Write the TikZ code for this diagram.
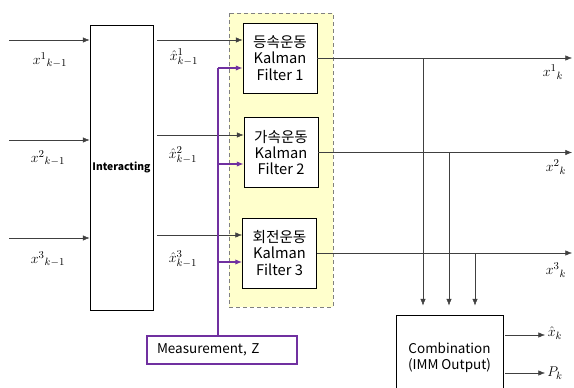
\documentclass[tikz,border=0pt]{standalone}
\usepackage{fontspec}
\setmainfont{Noto Sans CJK KR}
\usetikzlibrary{arrows.meta}
\definecolor{bankyel}{RGB}{255,255,204}
\definecolor{zpurple}{RGB}{112,48,160}
\definecolor{wire}{RGB}{64,64,64}
\tikzset{
  blk/.style  = {rectangle, draw, thick, fill=white, align=center, inner sep=0, font=\fontsize{11.5}{13.6}\selectfont},
  kf/.style   = {blk, minimum width=22.2mm, minimum height=21mm, font=\fontsize{12.5}{14}\selectfont},
  arr/.style  = {draw=wire, -{Latex[length=2mm,width=1.6mm]}},
  zline/.style= {draw=zpurple, line width=1pt},
  zarr/.style = {zline, -{Latex[length=2mm,width=1.6mm]}},
  lbl/.style  = {font=\fontsize{13}{15}\selectfont}
}

\begin{document}
\begin{tikzpicture}[x=0.3mm,y=-0.3mm]
  \useasboundingbox (0,0) rectangle (574,387);
  \clip (0,0) rectangle (574,387);

  % filter bank
  \draw[draw=gray, fill=bankyel, thick, dash pattern=on 1.2mm off 0.9mm] (229,13) rectangle (333,307);

  \node[blk, minimum width=18.9mm, minimum height=85.5mm, font=\fontsize{8.8}{10}\selectfont\bfseries] (inter) at (121.5,167.5) {Interacting};
  \node[kf] (kf1) at (280,58)    {등속운동\\Kalman\\Filter 1};
  \node[kf] (kf2) at (281,152.5) {가속운동\\Kalman\\Filter 2};
  \node[kf] (kf3) at (279.5,253) {회전운동\\Kalman\\Filter 3};
  \node[blk, draw=zpurple, line width=1pt, minimum width=45mm, minimum height=8.4mm,
        text width=39mm, align=left] (meas) at (222,350) {Measurement, Z};
  \node[blk, minimum width=32.1mm, minimum height=25.5mm] (comb) at (449.5,357.5) {Combination\\(IMM Output)};

  % inputs of the mixing stage
  \foreach \i/\y in {1/40, 2/140, 3/238} {
    \coordinate (in\i) at (9,\y);
    \draw[arr] (in\i) -- (in\i -| inter.west);
  }
  \node[lbl] (xa1) at (50,60)  {${x^{1}}_{k-1}$};
  \node[lbl] (xa2) at (48,158) {${x^{2}}_{k-1}$};
  \node[lbl] (xa3) at (48,259) {${x^{3}}_{k-1}$};

  % mixed estimates into the filters
  \foreach \i/\y in {1/40, 2/135, 3/235} {
    \coordinate (mx\i) at (157,\y);
    \draw[arr] (mx\i) -- (mx\i -| kf\i.west);
  }
  \node[lbl] (xh1) at (184,57)  {${\hat{x}^{1}}_{k-1}$};
  \node[lbl] (xh2) at (183,155) {${\hat{x}^{2}}_{k-1}$};
  \node[lbl] (xh3) at (183,259) {${\hat{x}^{3}}_{k-1}$};

  % measurement
  \coordinate (ztop) at (218,68);
  \draw[zline] (meas.north -| ztop) -- (ztop);
  \foreach \i/\y in {1/68, 2/164, 3/262} {
    \coordinate (z\i) at (218,\y);
    \draw[zarr] (z\i) -- (z\i -| kf\i.west);
  }

  % filter outputs
  \coordinate (rgt) at (572,0);
  \foreach \i in {1,2,3}
    \draw[arr] (kf\i.east) -- (kf\i.east -| rgt);
  \node[lbl] (xo1) at (553,72)  {${x^{1}}_{k}$};
  \node[lbl] (xo2) at (556,167) {${x^{2}}_{k}$};
  \node[lbl] (xo3) at (556,270) {${x^{3}}_{k}$};

  % into the combination
  \coordinate (d1) at (423,0);
  \coordinate (d2) at (449,0);
  \coordinate (d3) at (475,0);
  \foreach \i in {1,2,3}
    \draw[arr, shorten >=2.7mm] (kf\i.east -| d\i) -- (comb.north -| d\i);

  % combined output
  \coordinate (ox) at (505,335);
  \coordinate (oxe) at (545,335);
  \coordinate (op) at (505,373);
  \coordinate (ope) at (545,373);
  \draw[arr] (ox) -- (oxe);
  \draw[arr] (op) -- (ope);
  \node[lbl] (xk) at (555,333) {$\hat{x}_{k}$};
  \node[lbl] (pk) at (555,373) {$P_{k}$};
\end{tikzpicture}
\end{document}
